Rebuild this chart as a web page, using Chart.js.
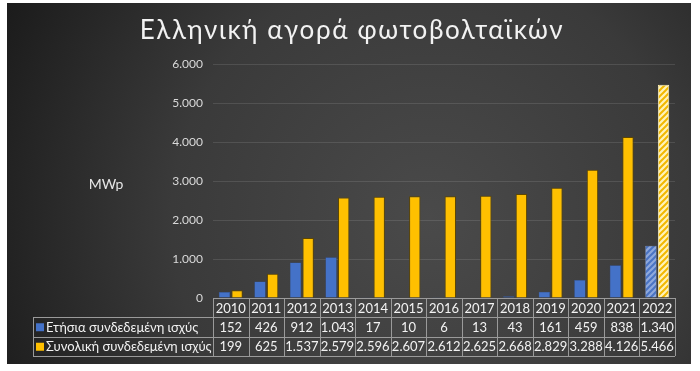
<!DOCTYPE html>
<html>
<head>
<meta charset="utf-8">
<script src="https://cdn.jsdelivr.net/npm/chart.js@4.4.1/dist/chart.umd.min.js"></script>
<style>
html,body{margin:0;padding:0;background:#fff;}
canvas{display:block;}
</style>
</head>
<body>
<canvas id="c" width="700" height="371"></canvas>
<script>
const titleText = 'Ελληνική αγορά φωτοβολταϊκών';
const unitLabel = 'MWp';
const years = ['2010','2011','2012','2013','2014','2015','2016','2017','2018','2019','2020','2021','2022'];
const seriesNames = ['Ετήσια συνδεδεμένη ισχύς', 'Συνολική συνδεδεμένη ισχύς'];
const annual = [152, 426, 912, 1043, 17, 10, 6, 13, 43, 161, 459, 838, 1340];
const cumulative = [199, 625, 1537, 2579, 2596, 2607, 2612, 2625, 2668, 2829, 3288, 4126, 5466];
const yTicks = [0, 1000, 2000, 3000, 4000, 5000, 6000];

const FONT = "Lato, 'Open Sans', 'Noto Sans', sans-serif";
const fmt = v => String(v).replace(/\B(?=(\d{3})+(?!\d))/g, '.');

const canvas = document.getElementById('c');
const ctx = canvas.getContext('2d');

function hatch(bg, fg) {
  const s = 6;
  const c = document.createElement('canvas');
  c.width = s; c.height = s;
  const g = c.getContext('2d');
  g.fillStyle = bg; g.fillRect(0, 0, s, s);
  g.strokeStyle = fg; g.lineWidth = 2;
  g.beginPath();
  g.moveTo(0, s); g.lineTo(s, 0);
  g.moveTo(-s/2, s/2); g.lineTo(s/2, -s/2);
  g.moveTo(s/2, s*1.5); g.lineTo(s*1.5, s/2);
  g.stroke();
  return ctx.createPattern(c, 'repeat');
}
const blueC = '#4472c8';
const yellowC = '#ffc000';
const blueHatch = hatch('#8fa9dc', '#4a74c4');
const yellowHatch = hatch('#fff3b8', '#f2b800');
const last = years.length - 1;

const bgPlugin = {
  id: 'bgPlugin',
  beforeDraw(chart) {
    const c = chart.ctx;
    c.save();
    c.fillStyle = '#ffffff';
    c.fillRect(0, 0, chart.width, chart.height);
    const g = c.createRadialGradient(430, 220, 0, 430, 220, 470);
    g.addColorStop(0, '#4a4a4a');
    g.addColorStop(0.55, '#3a3a3a');
    g.addColorStop(1, '#1c1c1c');
    c.fillStyle = g;
    c.fillRect(7, 3, 684, 361);
    c.restore();
  },
  afterDraw(chart) {
    const c = chart.ctx;
    const xs = chart.scales.x;
    const area = chart.chartArea;
    c.save();
    // title
    c.fillStyle = '#f2f2f2';
    c.font = "26px " + FONT;
    c.textAlign = 'center';
    c.textBaseline = 'middle';
    try { c.letterSpacing = '1.6px'; } catch (e) {}
    c.fillText(titleText, 352, 31);
    try { c.letterSpacing = '0px'; } catch (e) {}
    // unit label
    c.font = "14px " + FONT;
    c.fillStyle = '#e6e6e6';
    c.fillText(unitLabel, 106, 184);

    // data table
    const n = years.length;
    const cw = (area.right - area.left) / n;
    const left = area.left, right = area.right;
    const rowTop = [area.bottom, area.bottom + 19, area.bottom + 38.5];
    const rowBot = area.bottom + 58;
    const legL = 33;
    c.strokeStyle = '#9a9a9a';
    c.lineWidth = 1;
    c.beginPath();
    c.moveTo(left, Math.round(rowTop[0]) + 0.5); c.lineTo(right, Math.round(rowTop[0]) + 0.5);
    c.moveTo(legL, Math.round(rowTop[1]) + 0.5); c.lineTo(right, Math.round(rowTop[1]) + 0.5);
    c.moveTo(legL, Math.round(rowTop[2]) + 0.5); c.lineTo(right, Math.round(rowTop[2]) + 0.5);
    c.moveTo(legL, Math.round(rowBot) + 0.5); c.lineTo(right, Math.round(rowBot) + 0.5);
    for (let i = 0; i <= n; i++) {
      const x = Math.round(left + i * cw) + 0.5;
      c.moveTo(x, rowTop[0]); c.lineTo(x, rowBot);
    }
    c.moveTo(legL + 0.5, rowTop[1]); c.lineTo(legL + 0.5, rowBot);
    c.stroke();

    c.font = "13px " + FONT;
    c.fillStyle = '#f2f2f2';
    c.textAlign = 'center';
    const rows = [years, annual.map(fmt), cumulative.map(fmt)];
    const rowMid = [ (rowTop[0] + rowTop[1]) / 2 + 1, (rowTop[1] + rowTop[2]) / 2 + 1, (rowTop[2] + rowBot) / 2 + 1 ];
    for (let r = 0; r < 3; r++) {
      for (let i = 0; i < n; i++) {
        c.fillText(rows[r][i], xs.getPixelForValue(i), rowMid[r]);
      }
    }
    const keys = [blueC, yellowC];
    c.textAlign = 'left';
    for (let k = 0; k < 2; k++) {
      c.fillStyle = keys[k];
      c.fillRect(36, rowMid[k + 1] - 4.5, 8, 8);
      c.fillStyle = '#f2f2f2';
      c.fillText(seriesNames[k], 46, rowMid[k + 1]);
    }
    c.restore();
  }
};

new Chart(canvas, {
  type: 'bar',
  data: {
    labels: years,
    datasets: [
      {
        label: seriesNames[0],
        data: annual,
        backgroundColor: annual.map((v, i) => i === last ? blueHatch : blueC),
        borderColor: annual.map((v, i) => i === last ? '#9db3e0' : '#2f56a0'),
        borderWidth: 0.5,
        categoryPercentage: 0.71,
        barPercentage: 0.9
      },
      {
        label: seriesNames[1],
        data: cumulative,
        backgroundColor: cumulative.map((v, i) => i === last ? yellowHatch : yellowC),
        borderColor: cumulative.map((v, i) => i === last ? '#fff4c0' : '#5e4700'),
        borderWidth: 1,
        categoryPercentage: 0.71,
        barPercentage: 0.9
      }
    ]
  },
  options: {
    responsive: false,
    animation: false,
    devicePixelRatio: 1,
    layout: { padding: { top: 64, bottom: 73, left: 0, right: 25 } },
    plugins: { legend: { display: false }, title: { display: false }, tooltip: { enabled: false } },
    scales: {
      x: { display: false },
      y: {
        min: 0, max: 6000,
        afterFit(s) { s.width = 213; },
        afterBuildTicks(s) { s.ticks = yTicks.map(v => ({ value: v })); },
        ticks: {
          padding: 10,
          color: '#d9d9d9',
          font: { family: FONT, size: 12 },
          callback: v => fmt(v)
        },
        grid: { color: 'rgba(255,255,255,0.11)', drawTicks: false },
        border: { display: false }
      }
    }
  },
  plugins: [bgPlugin]
});
</script>
</body>
</html>
